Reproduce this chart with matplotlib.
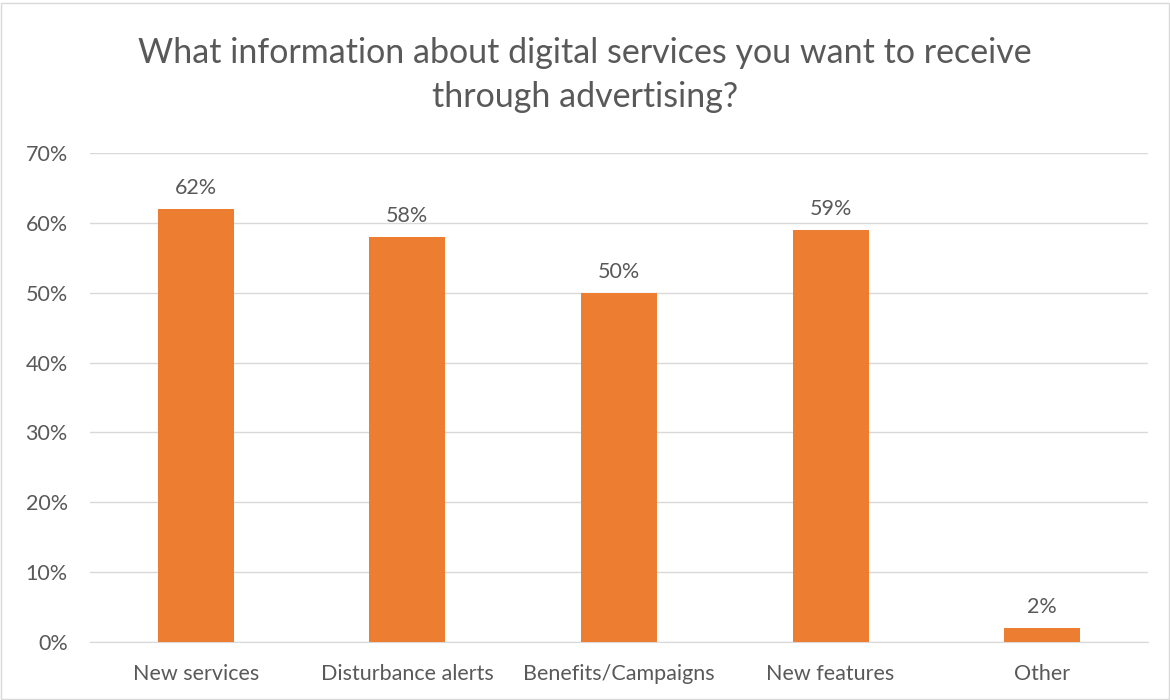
import matplotlib
matplotlib.use("Agg")
import matplotlib.pyplot as plt
from matplotlib.patches import Rectangle

categories = ["New services", "Disturbance alerts", "Benefits/Campaigns", "New features", "Other"]
values = [62, 58, 50, 59, 2]
yticks = [0, 10, 20, 30, 40, 50, 60, 70]
title = "What information about digital services you want to receive\nthrough advertising?"

plt.rcParams['font.family'] = ['Lato', 'DejaVu Sans']
text_color = "#595959"
bar_color = "#ED7D31"

fig = plt.figure(figsize=(11.7, 7.0), dpi=100)
ax = fig.add_axes([90/1170, 1-642/700, (1148-90)/1170, (642-153)/700])

x = list(range(len(categories)))
ax.bar(x, values, width=0.36, color=bar_color, zorder=3)
for xi, v in zip(x, values):
    ax.text(xi, v + 1.6, f"{v}%", ha="center", va="bottom", fontsize=15.5, color=text_color)

ax.set_xlim(-0.5, len(categories) - 0.5)
ax.set_ylim(0, 70)
ax.set_yticks(yticks)
ax.set_yticklabels([f"{t}%" for t in yticks], fontsize=15.5, color=text_color)
ax.set_xticks(x)
ax.set_xticklabels(categories, fontsize=15.5, color=text_color)
ax.tick_params(axis='both', length=0)
ax.tick_params(axis='x', pad=16)
ax.tick_params(axis='y', pad=16)
ax.yaxis.grid(True, color="#D9D9D9", linewidth=1, zorder=0)
for s in ["top", "right", "left"]:
    ax.spines[s].set_visible(False)
ax.spines["bottom"].set_color("#D9D9D9")

fig.text(0.5, 1 - 75/700, title, ha="center", va="center", fontsize=24.5, color=text_color,
         linespacing=1.45)

fig.patches.append(Rectangle((0.001, 0.001), 0.998, 0.995, transform=fig.transFigure,
                             fill=False, edgecolor="#D9D9D9", linewidth=1))

fig.savefig("out.png", dpi=100)
